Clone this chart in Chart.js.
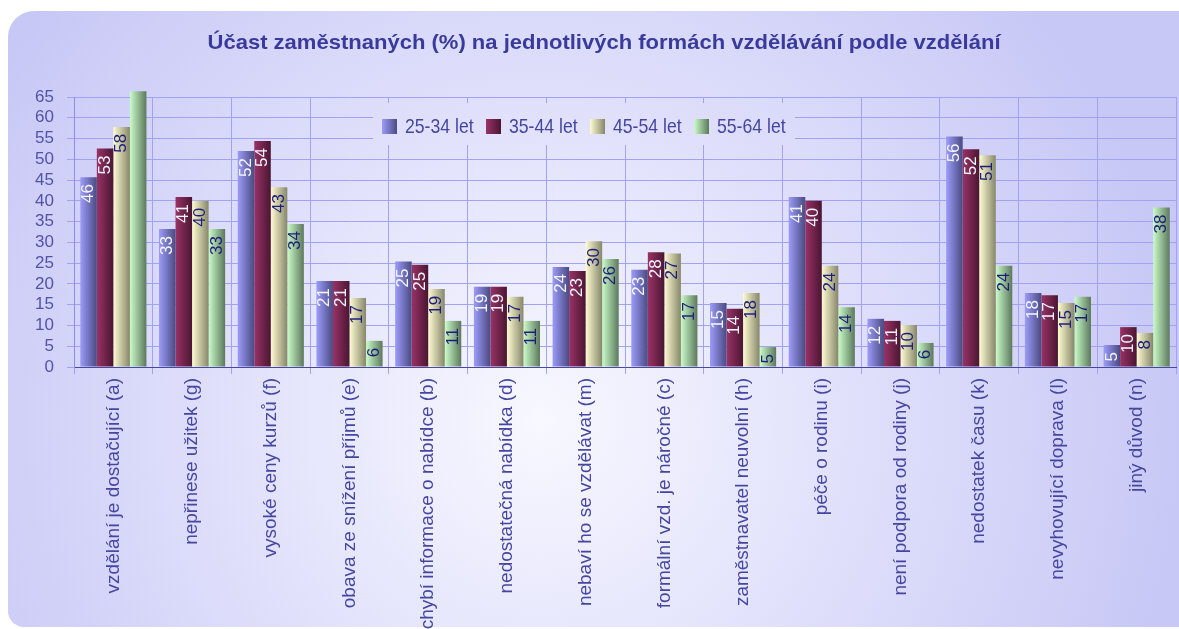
<!DOCTYPE html>
<html>
<head>
<meta charset="utf-8">
<script src="https://cdn.jsdelivr.net/npm/chart.js@4.4.1/dist/chart.umd.min.js"></script>
<style>
  html, body { margin: 0; padding: 0; background: #fff; }
  #wrap { width: 1179px; height: 629px; }
</style>
</head>
<body>
<div id="wrap"><canvas id="eduChart" width="1179" height="629"></canvas></div>
<script>
/* data */
const CATEGORIES = [
  'vzdělání je dostačující (a)', 'nepřinese užitek (g)', 'vysoké ceny kurzů (f)',
  'obava ze snížení příjmů (e)', 'chybí informace o nabídce (b)', 'nedostatečná nabídka (d)',
  'nebaví ho se vzdělávat (m)', 'formální vzd. je náročné (c)', 'zaměstnavatel neuvolní (h)',
  'péče o rodinu (i)', 'není podpora od rodiny (j)', 'nedostatek času (k)',
  'nevyhovující doprava (l)', 'jiný důvod (n)'
];
const SERIES_NAMES = ['25-34 let', '35-44 let', '45-54 let', '55-64 let'];
const AGE_25_34 = [45.7, 33.2, 52.0, 20.7, 25.4, 19.3, 24.1, 23.4, 15.4, 40.9, 11.6, 55.5, 17.8, 5.3];
const AGE_35_44 = [52.6, 40.9, 54.4, 20.7, 24.6, 19.3, 23.1, 27.6, 14.0, 40.0, 11.1, 52.4, 17.3, 9.6];
const AGE_45_54 = [57.8, 40.0, 43.3, 16.6, 18.8, 16.9, 30.3, 27.3, 17.8, 24.4, 10.1, 51.0, 15.4, 8.2];
const AGE_55_64 = [66.4, 33.2, 34.4, 6.3, 11.1, 11.1, 26.0, 17.3, 4.8, 14.4, 5.8, 24.4, 16.9, 38.4];
const Y_MAX = 65;
const Y_STEP = 5;
const TITLE = 'Účast zaměstnaných (%) na jednotlivých formách vzdělávání podle vzdělání';

const REGULAR = "'Liberation Sans', Arial, sans-serif";
const CAT_PCT = 0.84;

// light -> dark pairs for the cylinder look of the bars
const SHADES = [
  ['#9c9cfa', '#4a4a82'],
  ['#9a3266', '#4a1632'],
  ['#fffcd2', '#86866a'],
  ['#cafcca', '#5c785c']
];
const LABEL_COLORS = ['#f4f4ff', '#f4f4ff', '#1c1c7c', '#1c1c7c'];

function barGradient(c) {
  const chart = c.chart;
  const x = chart.scales.x;
  const pair = SHADES[c.datasetIndex];
  if (!x || c.dataIndex === undefined) return pair[1];
  const catW = (x.right - x.left) / CATEGORIES.length;
  const bw = catW * CAT_PCT / 4;
  const left = x.getPixelForValue(c.dataIndex) - catW * CAT_PCT / 2 + c.datasetIndex * bw;
  if (!isFinite(left) || !isFinite(bw) || bw <= 0) return pair[1];
  const g = chart.ctx.createLinearGradient(left, 0, left + bw, 0);
  g.addColorStop(0, pair[0]);
  g.addColorStop(1, pair[1]);
  return g;
}

function panelFill(ctx) {
  const g = ctx.createRadialGradient(540, 420, 0, 540, 420, 640);
  g.addColorStop(0, '#f8f8ff');
  g.addColorStop(0.45, '#e2e2fc');
  g.addColorStop(1, '#c8c8f6');
  return g;
}

// narrow text: regular face squeezed sideways
function narrowText(ctx, text, x, y, sx) {
  ctx.save();
  ctx.translate(x, y);
  ctx.scale(sx, 1);
  ctx.fillText(text, 0, 0);
  ctx.restore();
}

// rounded lavender panel and the title
const panelPlugin = {
  id: 'panel',
  beforeDraw(chart) {
    const ctx = chart.ctx;
    ctx.save();
    ctx.fillStyle = '#ffffff';
    ctx.fillRect(0, 0, chart.width, chart.height);
    ctx.beginPath();
    ctx.roundRect(8, 11, 1180, 616, [26, 8, 0, 16]);
    ctx.fillStyle = panelFill(ctx);
    ctx.fill();

    ctx.font = 'bold 21px ' + REGULAR;
    ctx.fillStyle = '#3a3a9c';
    ctx.textAlign = 'center';
    ctx.textBaseline = 'middle';
    const w = ctx.measureText(TITLE).width;
    narrowText(ctx, TITLE, 604, 43, 793 / w);
    ctx.restore();
  }
};

// legend sitting on a plain box inside the plot
const legendPlugin = {
  id: 'boxLegend',
  beforeDatasetsDraw(chart) {
    const ctx = chart.ctx;
    ctx.save();
    ctx.fillStyle = panelFill(ctx);
    ctx.fillRect(373, 103, 422, 42);
    ctx.font = '21px ' + REGULAR;
    ctx.textBaseline = 'middle';
    ctx.textAlign = 'left';
    chart.data.datasets.forEach((ds, i) => {
      const x = 382 + i * 104;
      const g = ctx.createLinearGradient(x, 0, x + 15, 0);
      g.addColorStop(0, SHADES[i][0]);
      g.addColorStop(1, SHADES[i][1]);
      ctx.fillStyle = g;
      ctx.fillRect(x, 119, 15, 15);
      ctx.fillStyle = '#4646a0';
      narrowText(ctx, ds.label, x + 23, 127, 0.84);
    });
    ctx.restore();
  }
};

// rounded values written upright inside the bar tops
const valuePlugin = {
  id: 'values',
  afterDatasetsDraw(chart) {
    const ctx = chart.ctx;
    ctx.save();
    ctx.font = '17px ' + REGULAR;
    ctx.textAlign = 'right';
    ctx.textBaseline = 'middle';
    chart.data.datasets.forEach((ds, i) => {
      const meta = chart.getDatasetMeta(i);
      meta.data.forEach((bar, j) => {
        const v = ds.data[j];
        if (v > Y_MAX) return;
        ctx.save();
        ctx.translate(bar.x, bar.y + 7);
        ctx.rotate(-Math.PI / 2);
        ctx.fillStyle = LABEL_COLORS[i];
        ctx.fillText(String(Math.round(v)), 0, 0);
        ctx.restore();
      });
    });
    ctx.restore();
  }
};

const seriesValues = [AGE_25_34, AGE_35_44, AGE_45_54, AGE_55_64];

new Chart(document.getElementById('eduChart'), {
  type: 'bar',
  data: {
    labels: CATEGORIES,
    datasets: seriesValues.map((vals, i) => ({
      label: SERIES_NAMES[i],
      data: vals,
      backgroundColor: barGradient,
      borderWidth: 0,
      barPercentage: 1.0,
      categoryPercentage: CAT_PCT,
      clip: false
    }))
  },
  options: {
    responsive: false,
    animation: false,
    layout: { padding: { left: 0, right: 3, top: 97, bottom: 0 } },
    scales: {
      x: {
        grid: { color: '#a2a2f2', offset: true, tickLength: 7 },
        border: { color: '#48489e' },
        ticks: {
          color: '#4646a0',
          font: { family: REGULAR, size: 19 },
          maxRotation: 90, minRotation: 90,
          padding: 4,
          autoSkip: false
        },
        afterFit(scale) { scale.height = 262; }
      },
      y: {
        min: 0,
        max: Y_MAX,
        grid: { color: '#a2a2f2', tickLength: 7 },
        border: { color: '#8c8ce6' },
        ticks: {
          stepSize: Y_STEP,
          autoSkip: false,
          color: '#5252a8',
          font: { family: REGULAR, size: 17 },
          padding: 13
        },
        afterFit(scale) { scale.width = 74; }
      }
    },
    plugins: {
      legend: { display: false },
      tooltip: { enabled: false },
      title: { display: false }
    }
  },
  plugins: [panelPlugin, legendPlugin, valuePlugin]
});
</script>
</body>
</html>
